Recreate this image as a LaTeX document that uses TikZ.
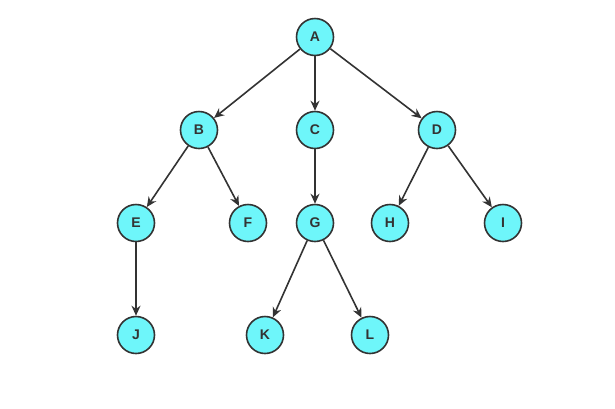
\documentclass[tikz,border=0pt]{standalone}
\usepackage{fontspec}
\setmainfont{Liberation Sans}
\usepackage{xcolor}
\usepackage{tikz}
\usetikzlibrary{arrows.meta}
\definecolor{nodecyan}{RGB}{110,246,250}
\definecolor{edgegray}{RGB}{51,51,51}

\begin{document}
\begin{tikzpicture}[x=1pt,y=-1pt,
    vertex/.style={circle,draw=edgegray,line width=1.6pt,fill=nodecyan,
        minimum size=37pt,inner sep=0pt,text=edgegray,
        font=\fontsize{14}{16}\selectfont\bfseries},
    link/.style={draw=edgegray,line width=1.6pt,-{Stealth[length=10pt,width=9pt]}}]
    \useasboundingbox (0,0) rectangle (615,408);

    % Levels of the tree
    \node[vertex] (A) at (315,37) {A};
    \node[vertex] (B) at (199,130) {B};
    \node[vertex] (C) at (315,130) {C};
    \node[vertex] (D) at (437,130) {D};
    \node[vertex] (E) at (136,223) {E};
    \node[vertex] (F) at (248,223) {F};
    \node[vertex] (G) at (315,223) {G};
    \node[vertex] (H) at (390,223) {H};
    \node[vertex] (I) at (503,223) {I};
    \node[vertex] (J) at (136,335) {J};
    \node[vertex] (K) at (265,335) {K};
    \node[vertex] (L) at (370,335) {L};

    % Parent -> child
    \foreach \p/\c in {A/B,A/C,A/D,B/E,B/F,C/G,D/H,D/I,E/J,G/K,G/L}
        \draw[link] (\p) -- (\c);
\end{tikzpicture}
\end{document}
